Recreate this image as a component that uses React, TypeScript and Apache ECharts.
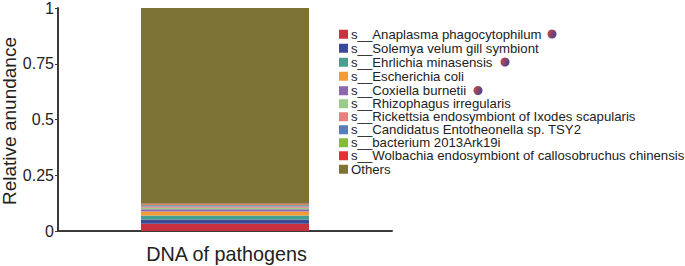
import React, { useEffect, useRef } from "react";
import * as echarts from "echarts";

const categories = ["DNA of pathogens"];
const speciesNames = [
  "s__Anaplasma phagocytophilum",
  "s__Solemya velum gill symbiont",
  "s__Ehrlichia minasensis",
  "s__Escherichia coli",
  "s__Coxiella burnetii",
  "s__Rhizophagus irregularis",
  "s__Rickettsia endosymbiont of Ixodes scapularis",
  "s__Candidatus Entotheonella sp. TSY2",
  "s__bacterium 2013Ark19i",
  "s__Wolbachia endosymbiont of callosobruchus chinensis",
  "Others",
];
const abundance = [0.033, 0.019, 0.018, 0.018, 0.009, 0.007, 0.006, 0.005, 0.004, 0.004, 0.877];
const colors = ["#c8323f", "#3b4a96", "#45a08f", "#f49a36", "#8b68ab", "#98cc87", "#e87f80", "#5a7db8", "#84bd34", "#e8302e", "#7c7335"];
const yTicks = [0, 0.25, 0.5, 0.75, 1];
const legendRowY = [34, 48, 62, 76, 90.5, 103.5, 116.5, 129.5, 142.5, 155.5, 169];
const markerSpots = [[552, 34], [505, 62], [478, 90.5]];

export default function App() {
  const ref = useRef<HTMLDivElement>(null);
  useEffect(() => {
    document.body.style.margin = "0";
    const chart = echarts.init(ref.current!, undefined, { renderer: "svg" });
    const font = "'Liberation Sans', Arial, sans-serif";
    chart.setOption({
      animation: false,
      textStyle: { fontFamily: font },
      grid: { left: 58, right: 293, top: 8, bottom: 35, outerBoundsMode: "none" },
      xAxis: {
        type: "category",
        data: categories,
        axisLine: { lineStyle: { color: "#3a3a3a", width: 2 } },
        axisTick: { show: false },
        axisLabel: { color: "#222", fontSize: 19.8, margin: 13, padding: [0, 0, 0, 3], fontFamily: font },
      },
      yAxis: {
        type: "value",
        min: 0,
        max: 1,
        interval: 0.25,
        splitLine: { show: false },
        axisLine: { show: true, lineStyle: { color: "#3a3a3a", width: 2 } },
        axisTick: { show: true, length: 3, lineStyle: { color: "#3a3a3a", width: 1 } },
        axisLabel: {
          color: "#222",
          fontSize: 16,
          margin: 4,
          fontFamily: font,
          formatter: (v: number) => (yTicks.includes(v) ? String(v) : ""),
        },
        name: "Relative anundance",
        nameLocation: "middle",
        nameGap: 38,
        nameTextStyle: { color: "#222", fontSize: 19, padding: [0, 3, 0, 0], fontFamily: font },
      },
      legend: speciesNames.map((n, i) => ({
        data: [{ name: n, icon: "rect" }],
        left: 339,
        top: legendRowY[i] - 6.25,
        padding: 0,
        itemWidth: 9,
        itemHeight: 9,
        itemGap: 0,
        selectedMode: false,
        textStyle: { color: "#222", fontSize: 13.2, lineHeight: 12.5, padding: [0, 0, 0, -2], fontFamily: font },
      })),
      series: speciesNames.map((n, i) => ({
        name: n,
        type: "bar",
        stack: "total",
        barWidth: 168,
        itemStyle: { color: colors[i] },
        data: [abundance[i]],
      })),
      graphic: markerSpots.map(([x, y]) => ({
        type: "circle",
        x,
        y,
        shape: { r: 4.5 },
        style: {
          fill: new echarts.graphic.LinearGradient(0, 0.3, 1, 0.7, [
            { offset: 0, color: "#c8483a" },
            { offset: 1, color: "#41409a" },
          ]),
        },
      })),
    });
    return () => chart.dispose();
  }, []);
  return <div ref={ref} style={{ width: 685, height: 266 }} />;
}
